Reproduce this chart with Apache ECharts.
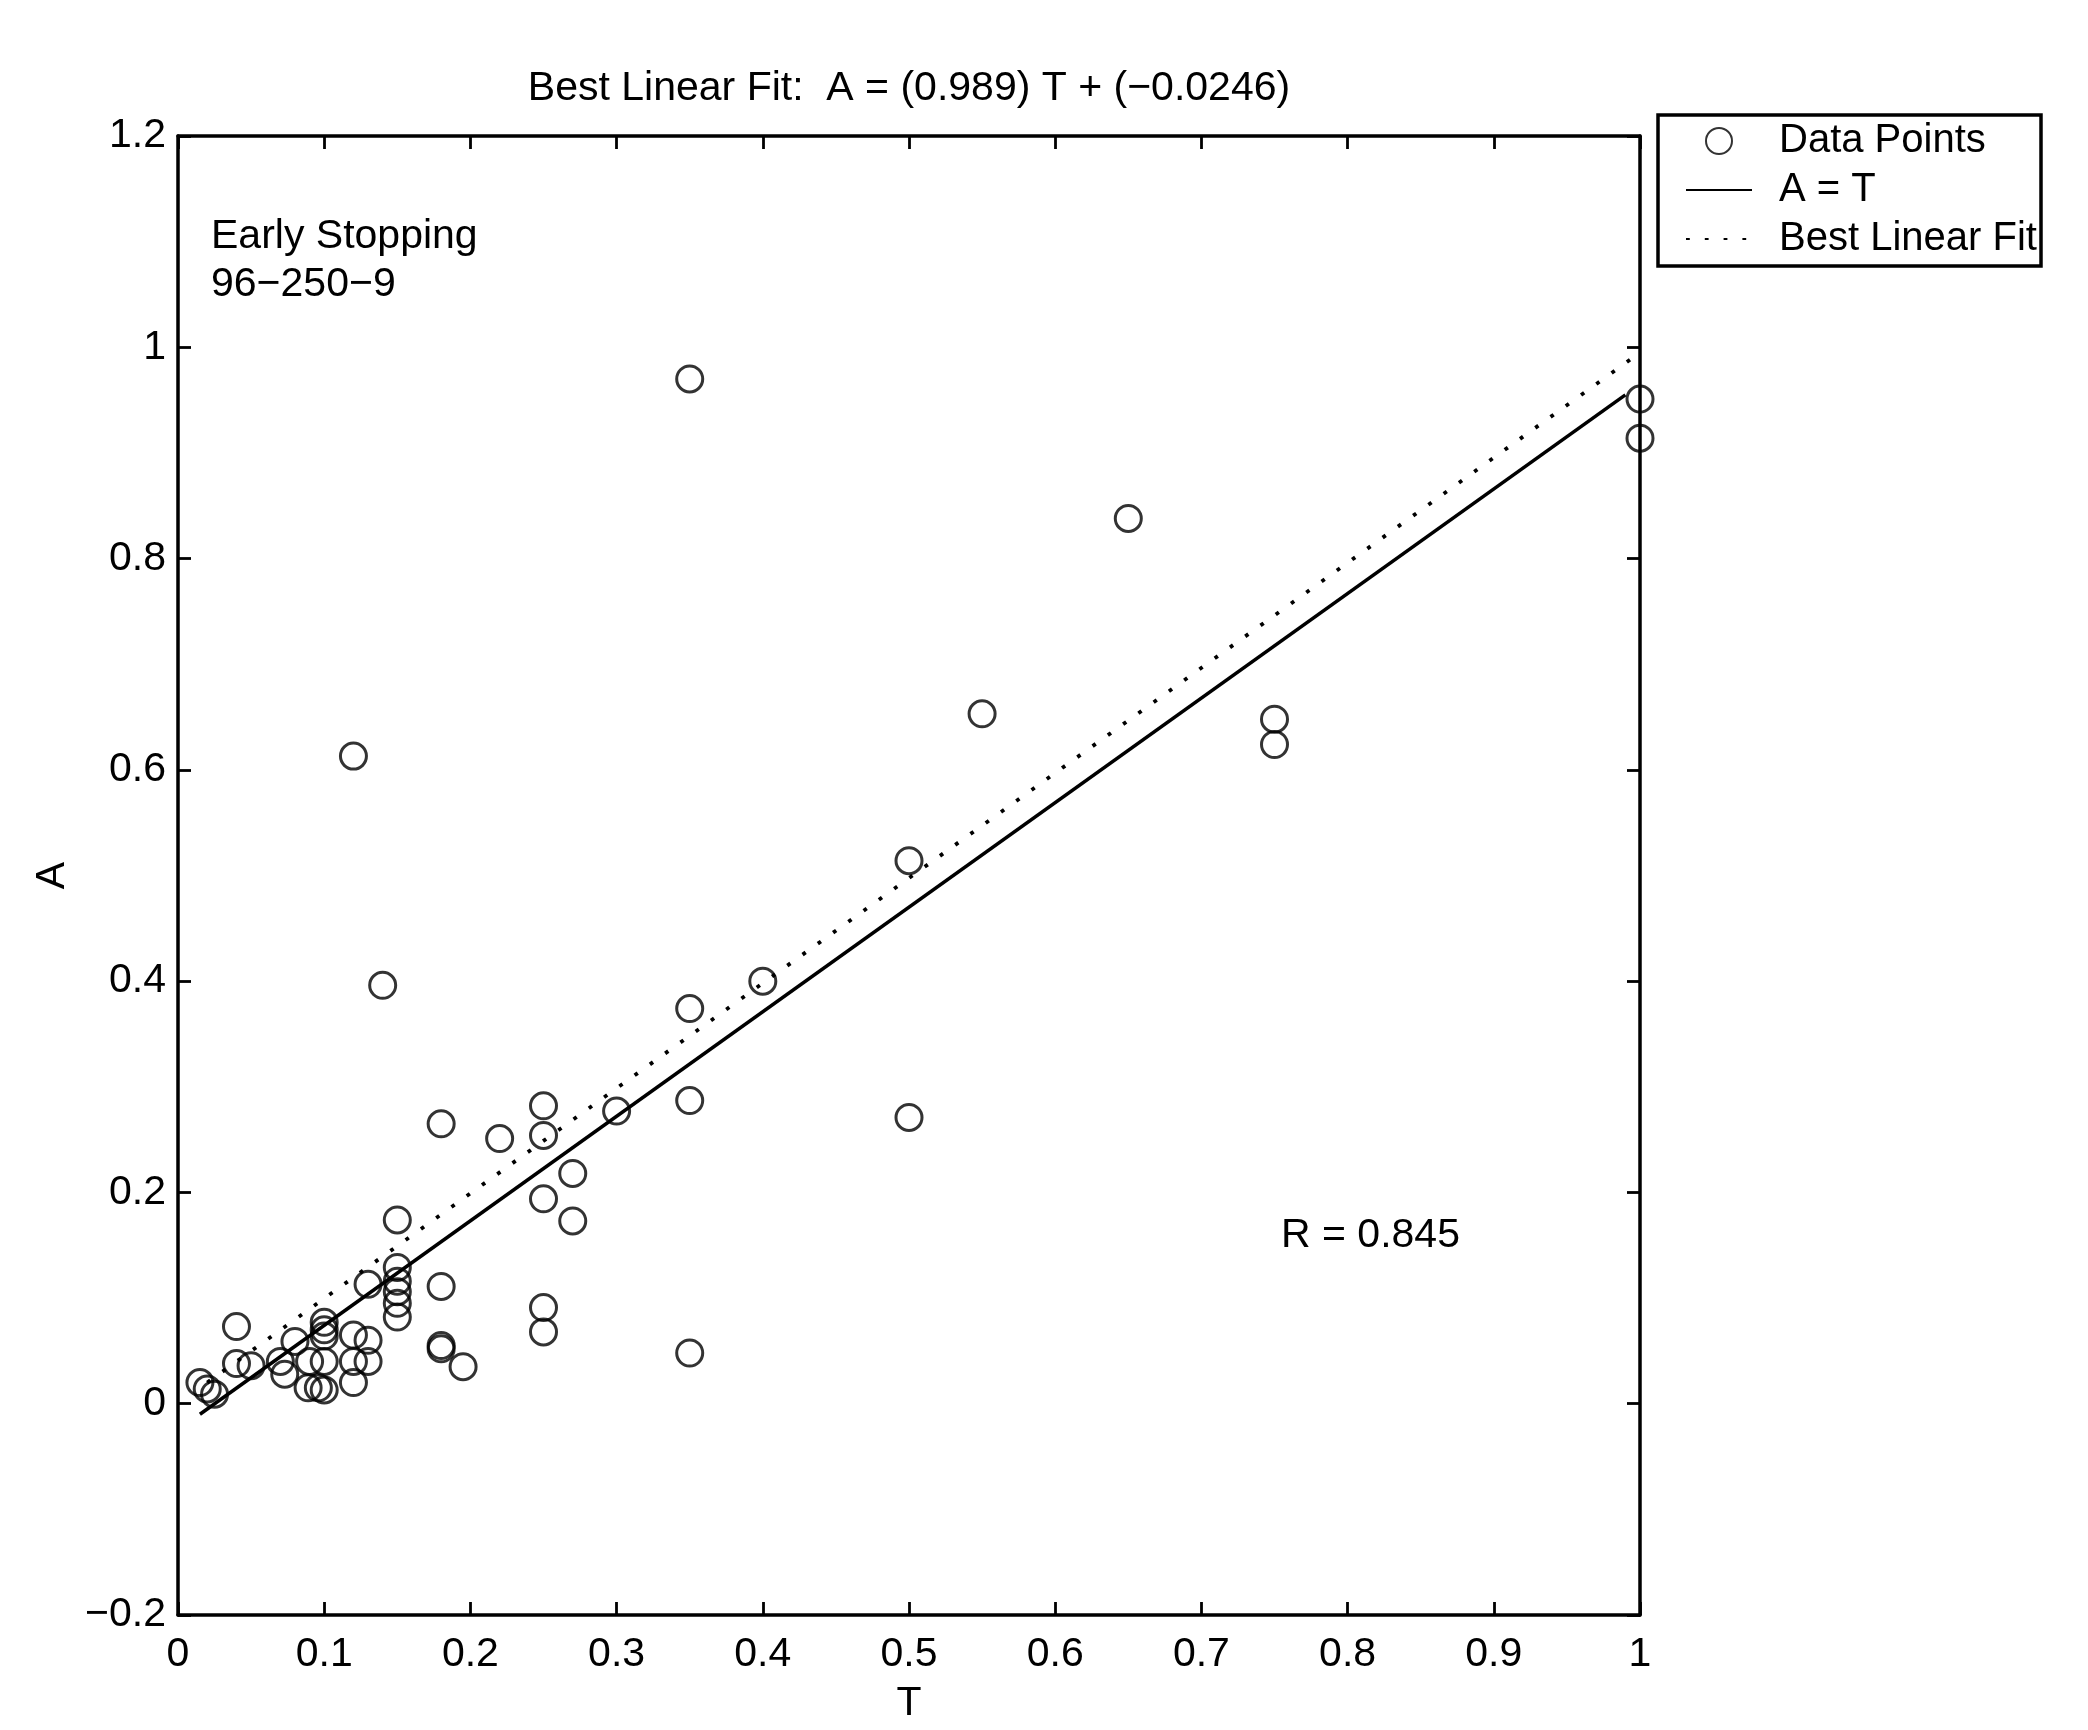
<!DOCTYPE html>
<html>
<head>
<meta charset="utf-8">
<title>Best Linear Fit</title>
<script src="https://cdn.jsdelivr.net/npm/echarts@6.0.0/dist/echarts.min.js"></script>
<style>
html, body { margin: 0; padding: 0; background: #fff; }
#chart { width: 2088px; height: 1730px; }
</style>
</head>
<body>
<div id="chart"></div>
<script>
// targets (T) and outputs (A)
const tValues = [
    0.35, 1.00, 1.00, 0.65, 0.55, 0.75, 0.75, 0.12, 0.50, 0.40,
    0.14, 0.35, 0.35, 0.50, 0.25, 0.30, 0.18, 0.22, 0.25, 0.27,
    0.25, 0.27, 0.15, 0.13, 0.15, 0.15, 0.15, 0.15, 0.15, 0.18,
    0.18, 0.18, 0.25, 0.25, 0.35, 0.195, 0.04, 0.04, 0.05, 0.015,
    0.02, 0.025, 0.08, 0.07, 0.073, 0.10, 0.10, 0.10, 0.09, 0.10,
    0.089, 0.096, 0.10, 0.12, 0.13, 0.12, 0.13, 0.12
];
const aValues = [
    0.970, 0.951, 0.914, 0.838, 0.653, 0.648, 0.624, 0.613, 0.514, 0.400,
    0.396, 0.374, 0.287, 0.271, 0.282, 0.277, 0.265, 0.251, 0.254, 0.218,
    0.194, 0.173, 0.174, 0.113, 0.129, 0.116, 0.106, 0.095, 0.082, 0.111,
    0.055, 0.052, 0.091, 0.068, 0.048, 0.035, 0.073, 0.038, 0.036, 0.020,
    0.014, 0.009, 0.059, 0.040, 0.028, 0.077, 0.070, 0.064, 0.040, 0.040,
    0.015, 0.015, 0.013, 0.065, 0.060, 0.040, 0.040, 0.020
];

// end points of the two reference lines as drawn in the picture
const solidLineT = [0.015, 0.99];
const solidLineA = [-0.01, 0.955];
const dottedLineT = [0.02, 0.995];
const dottedLineA = [0.02, 0.99];

const legendNames = ['Data Points', 'A = T', 'Best Linear Fit'];
const titleText = 'Best Linear Fit:  A = (0.989) T + (\u22120.0246)';
const noteLines = ['Early Stopping', '96\u2212250\u22129'];
const rText = 'R = 0.845';

const fontFamily = '"Liberation Sans", Arial, Helvetica, sans-serif';

function pairs(xs, ys) {
    return xs.map(function (x, i) { return [x, ys[i]]; });
}

function numLabel(v) {
    // matlab style minus
    return String(Math.round(v * 10) / 10).replace('-', '\u2212');
}

const axisLineStyle = { show: true, onZero: false, lineStyle: { color: '#000', width: 3.5 } };
const axisTickStyle = { show: true, inside: true, length: 13, lineStyle: { color: '#000', width: 2.8 } };
// line samples in the legend get no marker
const noMarker = { color: 'rgba(0,0,0,0)', borderWidth: 0, opacity: 0 };

const chart = echarts.init(document.getElementById('chart'), null, { renderer: 'canvas' });

const option = {
    animation: false,
    backgroundColor: '#fff',
    title: {
        text: titleText,
        left: 909,
        textAlign: 'center',
        top: 68,
        padding: 0,
        textStyle: { fontSize: 41, fontWeight: 'normal', color: '#000', fontFamily: fontFamily }
    },
    grid: { left: 178, right: 448, top: 136, bottom: 115, containLabel: false },
    legend: {
        data: [
            { name: legendNames[0] },
            { name: legendNames[1], itemStyle: noMarker },
            { name: legendNames[2], itemStyle: noMarker }
        ],
        orient: 'vertical',
        left: 1685,
        top: 121,
        padding: 0,
        itemWidth: 66,
        itemHeight: 26,
        itemGap: 9,
        selectedMode: false,
        textStyle: { fontSize: 40, color: '#000', fontFamily: fontFamily, padding: [0, 0, 0, 22] }
    },
    xAxis: [{
        type: 'value',
        position: 'bottom',
        min: 0,
        max: 1,
        interval: 0.1,
        name: 'T',
        nameLocation: 'middle',
        nameGap: 68,
        nameTextStyle: { fontSize: 41, color: '#000', fontFamily: fontFamily },
        axisLine: axisLineStyle,
        axisTick: axisTickStyle,
        axisLabel: { fontSize: 41, color: '#000', margin: 19, fontFamily: fontFamily, formatter: numLabel },
        splitLine: { show: false }
    }, {
        type: 'value',
        position: 'top',
        min: 0,
        max: 1,
        interval: 0.1,
        axisLine: axisLineStyle,
        axisTick: axisTickStyle,
        axisLabel: { show: false },
        splitLine: { show: false }
    }],
    yAxis: [{
        type: 'value',
        position: 'left',
        min: -0.2,
        max: 1.2,
        interval: 0.2,
        name: 'A',
        nameLocation: 'middle',
        nameGap: 105,
        nameTextStyle: { fontSize: 41, color: '#000', fontFamily: fontFamily },
        axisLine: axisLineStyle,
        axisTick: axisTickStyle,
        axisLabel: { fontSize: 41, color: '#000', margin: 12, fontFamily: fontFamily, formatter: numLabel },
        splitLine: { show: false }
    }, {
        type: 'value',
        position: 'right',
        min: -0.2,
        max: 1.2,
        interval: 0.2,
        axisLine: axisLineStyle,
        axisTick: axisTickStyle,
        axisLabel: { show: false },
        splitLine: { show: false }
    }],
    series: [{
        name: legendNames[0],
        type: 'scatter',
        symbol: 'circle',
        symbolSize: 26,
        clip: false,
        itemStyle: { color: 'rgba(0,0,0,0)', borderColor: '#000', borderWidth: 3 },
        emphasis: { disabled: true },
        data: pairs(tValues, aValues)
    }, {
        name: legendNames[1],
        type: 'line',
        symbol: 'none',
        lineStyle: { color: '#000', width: 3.5 },
        itemStyle: { color: '#000' },
        emphasis: { disabled: true },
        data: pairs(solidLineT, solidLineA)
    }, {
        name: legendNames[2],
        type: 'line',
        symbol: 'none',
        lineStyle: { color: '#000', width: 3.8, type: [3.8, 15] },
        itemStyle: { color: '#000' },
        emphasis: { disabled: true },
        data: pairs(dottedLineT, dottedLineA)
    }],
    graphic: [{
        type: 'rect',
        shape: { x: 1658, y: 115, width: 383, height: 151 },
        style: { fill: 'none', stroke: '#000', lineWidth: 3.5 },
        z: 100
    }, {
        type: 'text',
        left: 211,
        top: 216,
        style: { text: noteLines[0], font: '41px ' + fontFamily, fill: '#000' }
    }, {
        type: 'text',
        left: 211,
        top: 264,
        style: { text: noteLines[1], font: '41px ' + fontFamily, fill: '#000' }
    }, {
        type: 'text',
        left: 1281,
        top: 1215,
        style: { text: rText, font: '41px ' + fontFamily, fill: '#000' }
    }]
};

chart.setOption(option);
window.addEventListener('resize', function () {
    chart.resize();
});
</script>
</body>
</html>
